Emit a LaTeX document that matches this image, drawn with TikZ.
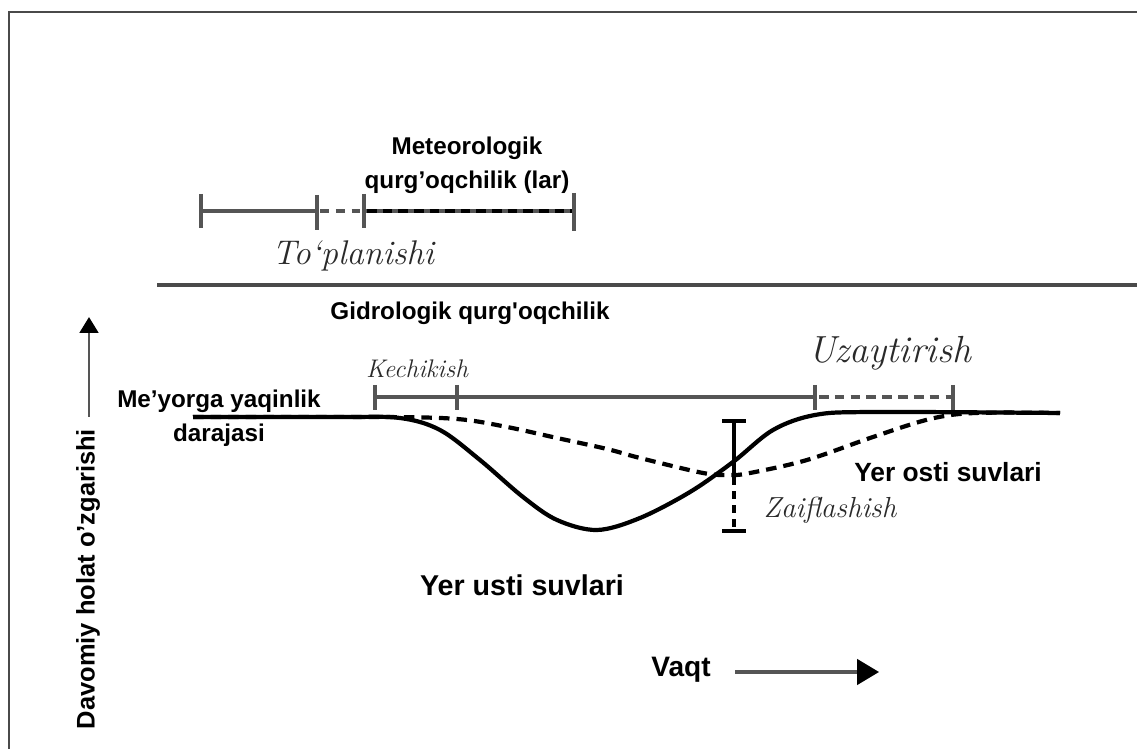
\documentclass[tikz,border=0pt]{standalone}
\usepackage{fontspec}
\newfontfamily\sansbf{Liberation Sans}[BoldFont={Liberation Sans Bold}]
\usetikzlibrary{arrows.meta}
\definecolor{bargray}{HTML}{555555}
\definecolor{txtgray}{HTML}{2A2A2A}
\definecolor{framegray}{HTML}{4A4A4A}
\begin{document}
\begin{tikzpicture}[x=0.02cm,y=-0.02cm,
  boldlbl/.style={font=\sansbf\bfseries\fontsize{13.8}{19.5}\selectfont, inner sep=0, align=center},
  biglbl/.style={font=\sansbf\bfseries\fontsize{16}{19}\selectfont, inner sep=0},
  itlbl/.style={font=\itshape, text=txtgray, inner sep=0},
  barline/.style={draw=bargray, line width=1.9pt},
  barline dashed/.style={draw=bargray, line width=1.9pt, dash pattern=on 5.5pt off 3.5pt},
  curveline/.style={draw=black, line width=2.4pt, line join=round},
  curvedashed/.style={draw=black, line width=2.4pt, dash pattern=on 6pt off 4pt},
  ibar/.style={draw=black, line width=2pt}
]
\useasboundingbox (0,0) rectangle (1137,749);
\fill[white] (0,0) rectangle (1137,749);

% frame
\coordinate (fbl) at (9,749);
\coordinate (ftl) at (9,12);
\coordinate (ftr) at (1137,12);
\draw[framegray, line width=1.3pt] (fbl) -- (ftl) -- (ftr);

% separator
\coordinate (sepL) at (157,285);
\coordinate (sepR) at (1137,285);
\draw[framegray, line width=1.8pt] (sepL) -- (sepR);

% top (meteorological) bar
\coordinate (t1) at (201,211);
\coordinate (t2) at (317,211);
\coordinate (t3) at (364,211);
\coordinate (t4) at (574,211);
\draw[barline] (t1) -- (t2);
\draw[barline, dash pattern=on 5pt off 4pt] (t2) ++(3,0) -- (t3);
\draw[barline] (t3) -- (t4);
\draw[black, line width=2.3pt, dash pattern=on 5.5pt off 3.4pt] (t3) ++(3,0) -- (t4);
\draw[barline] (t1) ++(0,-17) -- ++(0,34);
\draw[barline] (t2) ++(0,-16) -- ++(0,35);
\draw[barline] (t3) ++(0,-17) -- ++(0,34);
\draw[barline, line width=2.3pt] (t4) ++(0,-18) -- ++(0,38);

\node[boldlbl] (meteo) at (467,165) {Meteorologik\\qurg’oqchilik (lar)};
\node[itlbl, font=\itshape\fontsize{19.5}{22}\selectfont] (toplan) at (353,256) {To‘planishi};
\node[boldlbl] (gidro) at (470,313) {Gidrologik qurg'oqchilik};

% hydrological bar
\coordinate (k1) at (375,397);
\coordinate (k2) at (457,397);
\coordinate (k3) at (815,397);
\coordinate (k4) at (953,397);
\draw[barline] (k1) -- (k3);
\draw[barline dashed] (k3) ++(4,0) -- (k4);
\foreach \c in {k1,k2,k3,k4} \draw[barline] (\c) ++(0,-12) -- ++(0,25);

\node[itlbl, font=\itshape\fontsize{14.5}{16}\selectfont] (kech) at (417,369) {Kechikish};
\node[itlbl, font=\itshape\fontsize{21.5}{24}\selectfont] (uzay) at (890,353) {Uzaytirish};

\node[boldlbl] (meyor) at (219,418) {Me’yorga yaqinlik\\darajasi};

% curves
\draw[curvedashed] plot[smooth, tension=0.55] coordinates {
  (193,417) (380,417) (457,419) (507,427) (557,438) (607,449) (640,458)
  (703,473) (730,475) (750,473) (807,460) (873,437) (930,419) (975,413) (1060,413)};
\draw[curveline] plot[smooth, tension=0.55] coordinates {
  (193,417) (340,417) (400,418) (440,430) (480,460) (523,497) (557,520)
  (597,530) (640,518) (690,492) (733,462) (773,430) (815,415) (873,412) (1060,413)};

% weakening I-bar
\coordinate (ztop) at (734,421);
\coordinate (zmid) at (734,474);
\coordinate (zbot) at (734,531);
\draw[ibar] (ztop) -- (zmid);
\draw[ibar, dash pattern=on 4.5pt off 3.5pt] (zmid) ++(0,3) -- (zbot);
\draw[ibar] (ztop) ++(-12,0) -- ++(24,0);
\draw[ibar] (zbot) ++(-12,0) -- ++(24,0);

\node[itlbl, font=\itshape\fontsize{16.5}{19}\selectfont] (zaif) at (830,510) {Zaiflashish};
\node[biglbl, font=\sansbf\bfseries\fontsize{15}{18}\selectfont] (yerosti) at (948,472) {Yer osti suvlari};
\node[biglbl, font=\sansbf\bfseries\fontsize{16.3}{19}\selectfont] (yerusti) at (522,585) {Yer usti suvlari};

% axes
\coordinate (ya0) at (89,417);
\coordinate (ya1) at (89,317);
\draw[bargray, line width=1.7pt, -{Triangle[length=9pt,width=10.5pt,color=black]}] (ya0) -- (ya1);
\node[boldlbl, font=\sansbf\bfseries\fontsize{14.5}{17}\selectfont, rotate=90] (davom) at (88,579) {Davomiy holat o’zgarishi};

\node[biglbl] (vaqt) at (681,670) {Vaqt};
\coordinate (xa0) at (735,672);
\coordinate (xa1) at (879,672);
\draw[bargray, line width=1.8pt, -{Triangle[length=12.5pt,width=14.5pt,color=black]}] (xa0) -- (xa1);
\end{tikzpicture}
\end{document}
